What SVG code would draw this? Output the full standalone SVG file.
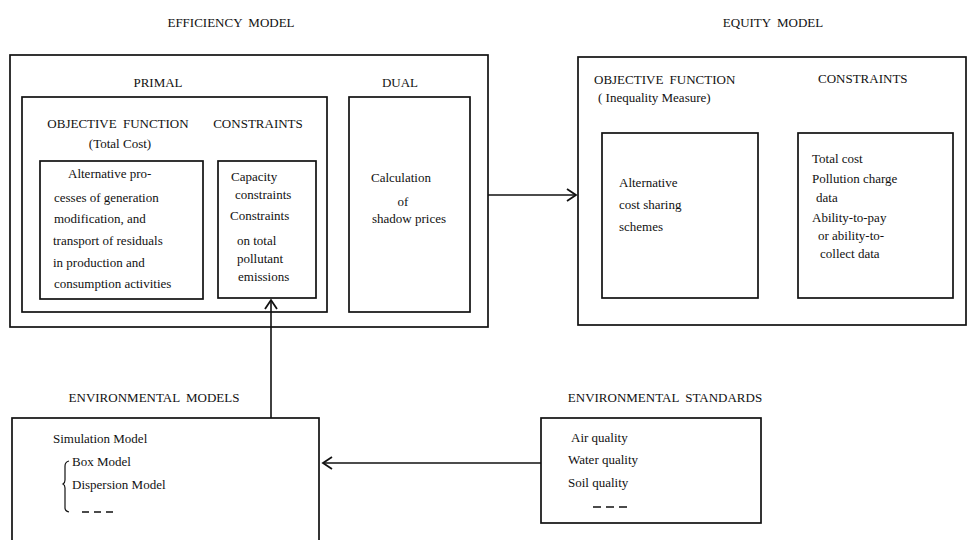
<svg xmlns="http://www.w3.org/2000/svg" width="969" height="540" viewBox="0 0 969 540">
<defs>
<style>
.box{fill:none;stroke:#111;stroke-width:1.7}
.t{font-family:"Liberation Serif","Times New Roman",serif;font-size:13px;fill:#111}
.h{font-family:"Liberation Serif","Times New Roman",serif;font-size:13px;fill:#111;word-spacing:3px}
.m{text-anchor:middle}
.conn{fill:none;stroke:#111;stroke-width:1.6}
</style>
<marker id="arr" markerWidth="12" markerHeight="14" refX="10" refY="7" orient="auto" markerUnits="userSpaceOnUse">
<path d="M1,1 L10,7 L1,13" fill="none" stroke="#111" stroke-width="1.8"/>
</marker>
</defs>
<rect width="969" height="540" fill="#fff"/>

<g id="efficiency-model">
<text class="h m" x="231" y="27">EFFICIENCY MODEL</text>
<rect class="box" x="10" y="55" width="478" height="272"/>
</g>

<g id="primal">
<text class="h m" x="158" y="87">PRIMAL</text>
<rect class="box" x="22" y="97" width="305" height="215"/>
<text class="h m" x="118" y="128">OBJECTIVE FUNCTION</text>
<text class="t m" x="120" y="148">(Total Cost)</text>
<text class="h m" x="258" y="128">CONSTRAINTS</text>
</g>

<g id="objective-function">
<rect class="box" x="40" y="161" width="163" height="138"/>
<text class="t" x="68" y="178">Alternative pro-</text>
<text class="t" x="54" y="202">cesses of generation</text>
<text class="t" x="54" y="223">modification, and</text>
<text class="t" x="53" y="245">transport of residuals</text>
<text class="t" x="53" y="267">in production and</text>
<text class="t" x="54" y="288">consumption activities</text>
</g>

<g id="constraints">
<rect class="box" x="218" y="161" width="98" height="137"/>
<text class="t" x="231" y="181">Capacity</text>
<text class="t" x="235" y="199">constraints</text>
<text class="t" x="230" y="220">Constraints</text>
<text class="t" x="237" y="245">on total</text>
<text class="t" x="237" y="263">pollutant</text>
<text class="t" x="238" y="281">emissions</text>
</g>

<g id="dual">
<text class="h m" x="400" y="87">DUAL</text>
<rect class="box" x="349" y="97" width="121" height="215"/>
<text class="t" x="371" y="182">Calculation</text>
<text class="t m" x="403" y="206">of</text>
<text class="t" x="372" y="223">shadow prices</text>
</g>

<g id="equity-model">
<text class="h m" x="773" y="27">EQUITY MODEL</text>
<rect class="box" x="578" y="57" width="388" height="268"/>
<text class="h" x="594" y="84">OBJECTIVE FUNCTION</text>
<text class="t" x="598" y="102">( Inequality Measure)</text>
<text class="h" x="818" y="83">CONSTRAINTS</text>
</g>

<g id="equity-objective">
<rect class="box" x="602" y="133" width="156" height="165"/>
<text class="t" x="619" y="187">Alternative</text>
<text class="t" x="619" y="209">cost sharing</text>
<text class="t" x="619" y="231">schemes</text>
</g>

<g id="equity-constraints">
<rect class="box" x="798" y="133" width="155" height="165"/>
<text class="t" x="812" y="163">Total cost</text>
<text class="t" x="812" y="183">Pollution charge</text>
<text class="t" x="816" y="202">data</text>
<text class="t" x="812" y="222">Ability-to-pay</text>
<text class="t" x="818" y="240">or ability-to-</text>
<text class="t" x="820" y="258">collect data</text>
</g>

<g id="environmental-models">
<text class="h m" x="154" y="402">ENVIRONMENTAL MODELS</text>
<rect class="box" x="12" y="418" width="307" height="140"/>
<text class="t" x="53" y="443">Simulation Model</text>
<text class="t" x="72" y="466">Box Model</text>
<text class="t" x="72" y="489">Dispersion Model</text>
<path d="M69,461 Q65,462 65,466 L65,480 Q65,483 63,484 Q65,485 65,488 L65,508 Q65,511 69,512" fill="none" stroke="#111" stroke-width="1.2"/>
<line x1="82" y1="512" x2="116" y2="512" stroke="#111" stroke-width="1.5" stroke-dasharray="7,5"/>
</g>

<g id="environmental-standards">
<text class="h m" x="665" y="402">ENVIRONMENTAL STANDARDS</text>
<rect class="box" x="541" y="418" width="220" height="105"/>
<text class="t" x="571" y="442">Air quality</text>
<text class="t" x="568" y="464">Water quality</text>
<text class="t" x="568" y="487">Soil quality</text>
<line x1="593" y1="507" x2="631" y2="507" stroke="#111" stroke-width="1.5" stroke-dasharray="8,5"/>
</g>

<g id="connectors">
<line class="conn" x1="488" y1="195" x2="576" y2="195" marker-end="url(#arr)"/>
<line class="conn" x1="271" y1="418" x2="271" y2="300" marker-end="url(#arr)"/>
<line class="conn" x1="541" y1="463" x2="323" y2="463" marker-end="url(#arr)"/>
</g>
</svg>
